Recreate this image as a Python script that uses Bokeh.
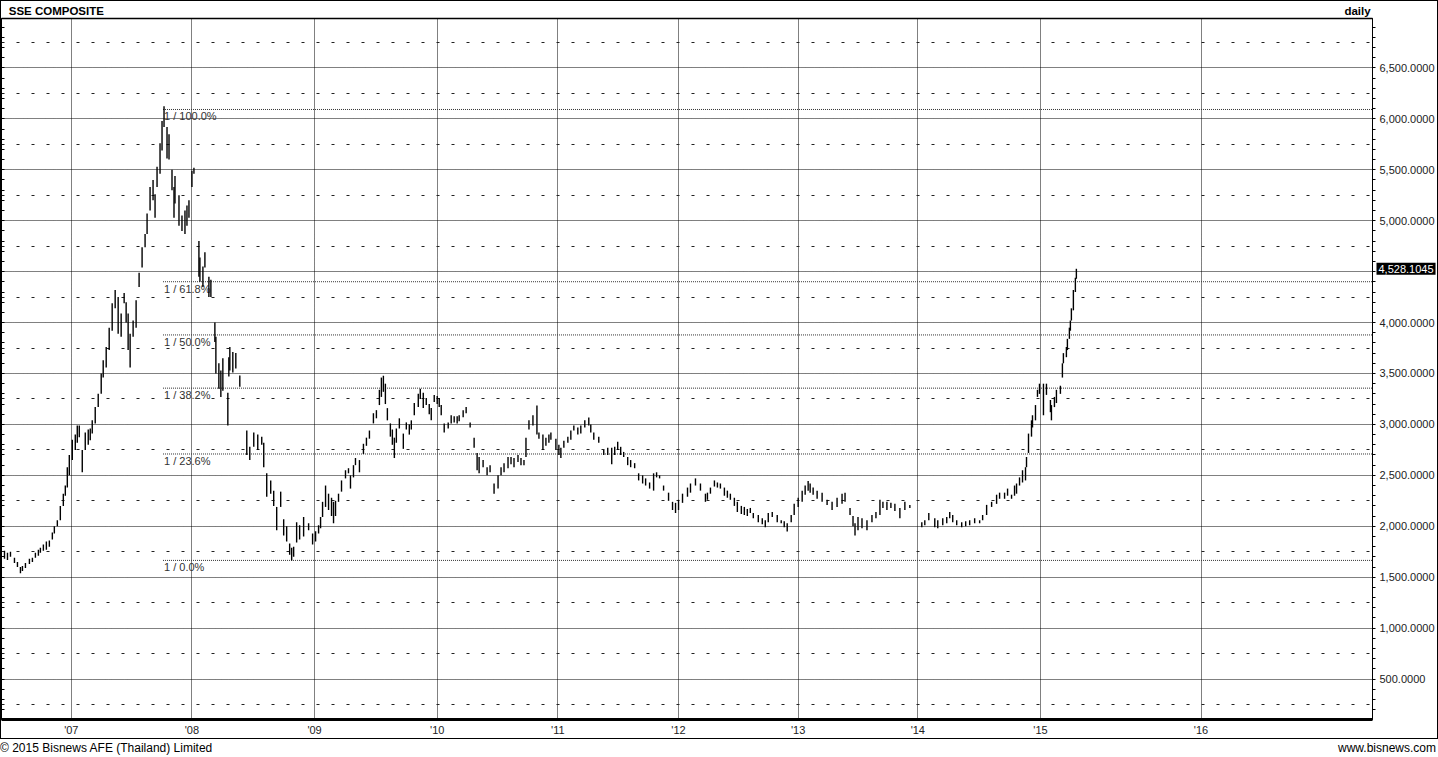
from bokeh.plotting import figure
from bokeh.models import (Range1d, LinearAxis, FixedTicker, SingleIntervalTicker,
                          NumeralTickFormatter, Grid, Label, ColumnDataSource, Div)
from bokeh.layouts import column
from bokeh.embed import file_html
from bokeh.resources import INLINE
from bokeh.core.properties import value

# ---------------- data ----------------
# t: time index (1 unit ~ 2 trading sessions), low/high: bar range
t = [2, 5, 8, 12, 15, 18, 20, 23, 27, 30, 33, 36, 38, 41, 44, 47, 50, 52, 55, 58,
     61, 63, 65, 67, 70, 73, 75, 77, 80, 83, 86, 88, 90, 93, 96, 99, 101, 104, 107, 110,
     113, 116, 119, 122, 124, 126, 128, 131, 134, 137, 140, 143, 145, 148, 151, 153, 155, 158, 160, 162,
     165, 167, 170, 172, 173, 177, 180, 183, 185, 187, 190, 192, 197, 198, 201, 203, 207, 209, 213, 214,
     217, 219, 221, 226, 227, 228, 231, 234, 238, 245, 248, 252, 256, 260, 262, 265, 269, 272, 275, 279,
     282, 285, 288, 290, 292, 295, 298, 302, 307, 311, 314, 317, 319, 321, 324, 327, 330, 332, 334, 337,
     340, 344, 347, 349, 352, 354, 358, 362, 365, 368, 372, 375, 378, 380, 382, 384, 386, 389, 391, 393,
     395, 398, 402, 405, 408, 410, 413, 417, 419, 422, 425, 428, 430, 433, 436, 438, 440, 443, 447, 450,
     453, 456, 458, 462, 465, 469, 473, 476, 478, 482, 486, 489, 493, 497, 500, 503, 507, 510, 513, 517,
     520, 523, 525, 528, 532, 536, 538, 542, 545, 548, 550, 555, 558, 560, 563, 567, 570, 573, 577, 580,
     584, 588, 590, 593, 598, 603, 607, 611, 614, 617, 620, 623, 627, 630, 634, 638, 642, 645, 649, 653,
     656, 659, 663, 668, 672, 675, 678, 682, 687, 690, 695, 700, 705, 707, 710, 714, 717, 720, 724, 727,
     730, 734, 737, 741, 744, 747, 750, 753, 758, 762, 765, 768, 772, 777, 781, 784, 787, 791, 794, 798,
     802, 805, 808, 810, 813, 817, 822, 827, 832, 837, 842, 845, 850, 853, 855, 858, 862, 867, 872, 876,
     880, 883, 887, 891, 895, 900, 905, 910, 922, 925, 929, 935, 938, 943, 947, 950, 953, 957, 962, 966,
     970, 975, 980, 983, 987, 992, 997, 1000, 1005, 1008, 1012, 1015, 1017, 1020, 1023, 1026, 1027, 1029, 1032, 1033,
     1036, 1038, 1040, 1044, 1047, 1051, 1052, 1055, 1057, 1061, 1063, 1064, 1067, 1068, 1070, 1071, 1072, 1074, 1076, 1077]

low = [1680, 1670, 1700, 1640, 1600, 1540, 1560, 1590, 1630, 1650, 1690, 1710, 1740, 1760, 1770, 1800, 1870, 1930, 2000, 2060,
       2200, 2300, 2380, 2500, 2650, 2750, 2820, 2875, 2530, 2750, 2800, 2845, 2910, 3010, 3170, 3300, 3460, 3560, 3730, 3920,
       4140, 3890, 3860, 4190, 4000, 3730, 3560, 3860, 3950, 4350, 4540, 4740, 4870, 5100, 5200, 5030, 5330, 5460, 5690, 5920,
       5610, 5600, 5300, 5030, 5170, 4950, 4900, 4870, 4950, 5030, 5330, 5460, 4450, 4400, 4350, 4540, 4250, 4250, 3810, 3500,
       3350, 3270, 3330, 2990, 3470, 3530, 3510, 3550, 3370, 2700, 2650, 2780, 2750, 2800, 2580, 2290, 2320, 2200, 1960, 2190,
       1910, 1850, 1720, 1665, 1700, 1840, 1870, 1900, 1960, 1820, 1850, 1930, 1980, 2090, 2190, 2160, 2100, 2030, 2100, 2240,
       2340, 2470, 2520, 2370, 2480, 2600, 2530, 2710, 2790, 2860, 3010, 3060, 3190, 3270, 3320, 3200, 3040, 2880, 2800, 2670,
       2820, 2960, 2760, 2950, 2900, 2950, 3090, 3170, 3250, 3160, 3190, 3100, 3040, 3220, 3200, 3170, 3090, 2920, 2960, 3010,
       3020, 3010, 3030, 3070, 3110, 2970, 2770, 2550, 2520, 2580, 2500, 2530, 2320, 2370, 2500, 2530, 2570, 2610, 2580, 2630,
       2600, 2600, 2680, 2950, 2990, 2900, 2860, 2750, 2790, 2820, 2850, 2750, 2700, 2670, 2770, 2820, 2850, 2940, 2900, 2910,
       2970, 2990, 2920, 2850, 2820, 2700, 2700, 2610, 2700, 2750, 2700, 2680, 2600, 2580, 2570, 2450, 2420, 2400, 2370, 2350,
       2480, 2470, 2350, 2250, 2160, 2130, 2160, 2230, 2290, 2330, 2400, 2350, 2240, 2260, 2320, 2390, 2380, 2370, 2300, 2280,
       2260, 2200, 2140, 2120, 2110, 2100, 2130, 2080, 2040, 2020, 1990, 2040, 2090, 2040, 2030, 1990, 1949, 2040, 2110, 2190,
       2240, 2310, 2350, 2330, 2310, 2270, 2240, 2210, 2160, 2190, 2220, 2240, 2110, 2000, 1910, 1960, 1980, 1960, 2040, 2080,
       2110, 2180, 2160, 2180, 2150, 2080, 2160, 2180, 1990, 2010, 2060, 1990, 1980, 2010, 2030, 2080, 2040, 2010, 1990, 2000,
       2010, 2030, 2030, 2060, 2110, 2190, 2220, 2270, 2270, 2300, 2270, 2300, 2320, 2400, 2430, 2450, 2580, 2720, 2880, 2970,
       3040, 3270, 3300, 3090, 3290, 3120, 3040, 3170, 3210, 3300, 3460, 3600, 3660, 3730, 3840, 3920, 4020, 4120, 4300, 4430]

high = [1760, 1740, 1750, 1690, 1650, 1600, 1610, 1640, 1680, 1690, 1740, 1770, 1790, 1820, 1850, 1860, 1940, 2000, 2060, 2200,
        2320, 2400, 2580, 2700, 2850, 2900, 2990, 2990, 2750, 2920, 2950, 2960, 3040, 3170, 3300, 3500, 3630, 3760, 3950, 4190,
        4320, 4250, 4090, 4290, 4200, 4090, 3890, 4020, 4220, 4490, 4740, 4870, 5070, 5330, 5400, 5260, 5530, 5760, 5980, 6124,
        5920, 5850, 5500, 5330, 5440, 5250, 5050, 5100, 5150, 5200, 5490, 5520, 4800, 4640, 4550, 4690, 4450, 4420, 4000, 3860,
        3600, 3530, 3650, 3310, 3660, 3760, 3710, 3700, 3480, 2940, 2780, 2920, 2900, 2880, 2820, 2520, 2450, 2350, 2190, 2340,
        2070, 2000, 1830, 1790, 1800, 2040, 2010, 2090, 2030, 1930, 1950, 2010, 2090, 2240, 2400, 2320, 2280, 2240, 2250, 2320,
        2450, 2550, 2570, 2500, 2600, 2670, 2650, 2810, 2870, 2940, 3110, 3140, 3340, 3460, 3478, 3400, 3160, 3010, 2950, 2870,
        2960, 3060, 2910, 3020, 3000, 3040, 3210, 3300, 3350, 3310, 3260, 3200, 3160, 3290, 3280, 3260, 3190, 3010, 3020, 3090,
        3080, 3080, 3090, 3140, 3170, 3020, 2870, 2720, 2680, 2650, 2580, 2600, 2420, 2500, 2580, 2620, 2680, 2680, 2670, 2700,
        2670, 2650, 2870, 3040, 3090, 3186, 2920, 2900, 2870, 2900, 2920, 2860, 2800, 2770, 2840, 2880, 2940, 2990, 2970, 2990,
        3040, 3067, 3000, 2920, 2880, 2750, 2770, 2770, 2780, 2830, 2780, 2730, 2680, 2650, 2620, 2520, 2500, 2470, 2430, 2520,
        2530, 2500, 2400, 2330, 2240, 2230, 2260, 2320, 2380, 2420, 2470, 2420, 2320, 2330, 2380, 2450, 2430, 2420, 2380, 2350,
        2320, 2280, 2240, 2200, 2190, 2170, 2180, 2130, 2110, 2080, 2060, 2130, 2140, 2110, 2060, 2050, 2030, 2110, 2220, 2280,
        2350, 2400, 2444, 2420, 2380, 2350, 2330, 2260, 2240, 2280, 2320, 2330, 2180, 2100, 2030, 2090, 2080, 2060, 2110, 2140,
        2260, 2240, 2240, 2230, 2220, 2180, 2240, 2210, 2040, 2060, 2130, 2080, 2060, 2080, 2090, 2140, 2110, 2060, 2040, 2050,
        2060, 2080, 2060, 2110, 2210, 2240, 2310, 2330, 2330, 2370, 2310, 2400, 2420, 2480, 2550, 2580, 2680, 2910, 3040, 3090,
        3190, 3340, 3400, 3400, 3400, 3240, 3190, 3270, 3340, 3380, 3600, 3700, 3760, 3840, 3950, 4020, 4140, 4320, 4440, 4528]

year_ticks = [69, 190, 313, 436, 557, 678, 798, 918, 1041, 1202]
year_labels = ["'07", "'08", "'09", "'10", "'11", "'12", "'13", "'14", "'15", "'16"]

fib_ratios = [0.0, 0.236, 0.382, 0.5, 0.618, 1.0]
fib_low = 1664.93
fib_high = 6092.06
fib_start = 161          # time index of the 2007 peak
last_close = 4528.1045
title_text = "SSE COMPOSITE"
period_text = "daily"
footer_left = "\u00a9 2015 Bisnews AFE (Thailand) Limited"
footer_right = "www.bisnews.com"

# ---------------- layout constants ----------------
FONT = "Liberation Sans"
W = 1438
H_BOX = 739
H_FOOT = 18
FRAME_H = 702
TAG_SLOT = 59            # width the tag label reserves in the right panel
X0, X1 = -1, 1374
PX_PER_500 = 51.0
Y0 = 500 - 40.5 * 500 / PX_PER_500
Y1 = Y0 + FRAME_H * 500 / PX_PER_500
HEAD_LEFT_POS = 54       # header text anchors (x units)
HEAD_RIGHT_POS = 1359

p = figure(width=W - 2, height=H_BOX - 2, output_backend="svg",
           toolbar_location=None, title=None,
           x_range=Range1d(X0, X1), y_range=Range1d(Y0, Y1),
           x_axis_location="below", y_axis_location="right",
           min_border_left=0, min_border_right=0, min_border_top=0, min_border_bottom=0,
           background_fill_color="white", border_fill_color="white")
p.outline_line_color = "black"
p.outline_line_width = 1
xax = p.below[0]
tick_ax = p.right[0]

# header: title and period as labels of a tick-less top axis
hax = LinearAxis(ticker=FixedTicker(ticks=[HEAD_LEFT_POS, HEAD_RIGHT_POS], minor_ticks=[]),
                 major_label_overrides={HEAD_LEFT_POS: title_text, HEAD_RIGHT_POS: period_text},
                 major_tick_in=0, major_tick_out=0, minor_tick_in=0, minor_tick_out=0,
                 major_label_standoff=2, axis_line_color="black", axis_line_width=1.5,
                 major_label_text_font=FONT, major_label_text_font_size="11.5px",
                 major_label_text_font_style="bold", major_label_text_color="black")
p.add_layout(hax, "above")

# right side: tick axis at the frame, tag label, then the price labels pulled back
label_levels = [v for v in range(500, 7000, 500) if abs(v - last_close) > 250]
minor_levels = list(range(200, 7000, 100))
tick_ax.ticker = FixedTicker(ticks=[], minor_ticks=minor_levels)
tick_ax.major_tick_in = 0
tick_ax.major_tick_out = 0
tick_ax.minor_tick_in = 0
tick_ax.minor_tick_out = 3
tick_ax.major_label_standoff = 0
tick_ax.axis_line_color = "black"
tick_ax.minor_tick_line_color = "black"

tag_kw = dict(x=X1, y=last_close, text="{:,.4f}".format(last_close), text_font=FONT,
              text_font_size="11px", text_color="white", background_fill_color="black",
              text_align="left", text_baseline="middle", x_offset=4)
if "padding" in Label.properties():
    tag_kw["padding"] = 2
p.add_layout(Label(**tag_kw), "right")

price_ax = LinearAxis(ticker=FixedTicker(ticks=label_levels, minor_ticks=[]),
                      formatter=NumeralTickFormatter(format="0,0.0000"),
                      major_tick_in=0, major_tick_out=0, minor_tick_in=0, minor_tick_out=0,
                      major_label_standoff=4 - TAG_SLOT, axis_line_color=None,
                      major_label_text_font=FONT, major_label_text_font_size="11px",
                      major_label_text_color="#222222")
p.add_layout(price_ax, "right")

# left tick-only axis (no labels)
lax = LinearAxis(ticker=FixedTicker(ticks=[], minor_ticks=minor_levels),
                 major_tick_in=0, major_tick_out=0, minor_tick_in=3, minor_tick_out=0,
                 major_label_standoff=0, axis_line_color="black",
                 minor_tick_line_color="black")
p.add_layout(lax, "left")

# bottom year axis
xax.ticker = FixedTicker(ticks=year_ticks, minor_ticks=[])
xax.major_label_overrides = {tk: lb for tk, lb in zip(year_ticks, year_labels)}
xax.major_tick_in = 0
xax.major_tick_out = 0
xax.minor_tick_in = 0
xax.minor_tick_out = 0
xax.axis_line_width = 3
xax.axis_line_color = "black"
xax.major_label_standoff = 4
xax.major_label_text_font = FONT
xax.major_label_text_font_size = "11px"
xax.major_label_text_color = "#222222"

# grids
p.xgrid.ticker = FixedTicker(ticks=year_ticks)
p.xgrid.grid_line_color = "black"
p.xgrid.grid_line_dash = "1 1"
p.xgrid.grid_line_width = 1
p.ygrid.ticker = SingleIntervalTicker(interval=500)
p.ygrid.grid_line_color = "black"
p.ygrid.grid_line_dash = "1 1"
p.ygrid.grid_line_width = 1
half_levels = list(range(250, 7000, 500))
p.add_layout(Grid(dimension=1, ticker=FixedTicker(ticks=half_levels),
                  grid_line_color="#222222", grid_line_dash="3 12", grid_line_width=1), "center")

# fibonacci retracement
fib_levels = [fib_low + r * (fib_high - fib_low) for r in fib_ratios]
fib_text = ["1 / %.1f%%" % (r * 100) for r in fib_ratios]
fsrc = ColumnDataSource(dict(x0=[fib_start] * len(fib_levels), x1=[X1] * len(fib_levels),
                             y=fib_levels, text=fib_text))
p.segment(x0="x0", y0="y", x1="x1", y1="y", source=fsrc, line_color="#333333",
          line_dash="1 1", line_width=1)
p.text(x="x0", y="y", text="text", source=fsrc, text_font=value(FONT),
       text_font_size="11px", text_color="#333333", text_baseline="top",
       text_align="left", x_offset=1, y_offset=1)

# price bars
src = ColumnDataSource(dict(t=t, low=low, high=high))
p.segment(x0="t", y0="low", x1="t", y1="high", source=src, line_color="black", line_width=1.4)

# boxed chart
box = column(p, width=W, height=H_BOX,
             styles={"border": "1px solid black", "box-sizing": "border-box"})

# footer
footer = Div(text=('<div style="display:flex;justify-content:space-between;width:%dpx;'
                   'font-family:\'Liberation Sans\',Arial,sans-serif;font-size:12px;'
                   'color:#000;line-height:%dpx;white-space:nowrap">'
                   '<span>%s</span><span>%s</span></div>') % (W - 2, H_FOOT, footer_left, footer_right),
             width=W, height=H_FOOT, margin=0)

layout = column(box, footer, spacing=0)
open("out.html", "w").write(file_html(layout, INLINE))
